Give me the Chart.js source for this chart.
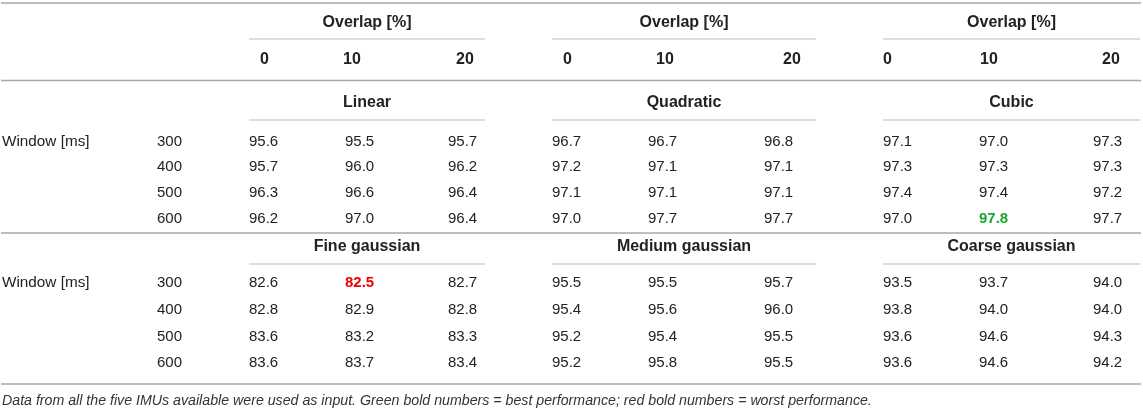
<!DOCTYPE html>
<html>
<head>
<meta charset="utf-8">
<script src="https://cdn.jsdelivr.net/npm/chart.js@4.4.1/dist/chart.umd.min.js"></script>
<style>
  html, body { margin: 0; padding: 0; background: #fff; }
  #wrap { width: 1143px; height: 411px; position: relative; }
</style>
</head>
<body>
<div id="wrap"><canvas id="imu_table"></canvas></div>
<script>
// table content
var overlaps = ['0', '10', '20'];
var windows = ['300', '400', '500', '600'];
var topMethods = ['Linear', 'Quadratic', 'Cubic'];
var bottomMethods = ['Fine gaussian', 'Medium gaussian', 'Coarse gaussian'];

var linear = [[95.6, 95.5, 95.7], [95.7, 96.0, 96.2], [96.3, 96.6, 96.4], [96.2, 97.0, 96.4]];
var quadratic = [[96.7, 96.7, 96.8], [97.2, 97.1, 97.1], [97.1, 97.1, 97.1], [97.0, 97.7, 97.7]];
var cubic = [[97.1, 97.0, 97.3], [97.3, 97.3, 97.3], [97.4, 97.4, 97.2], [97.0, 97.8, 97.7]];
var fineGaussian = [[82.6, 82.5, 82.7], [82.8, 82.9, 82.8], [83.6, 83.2, 83.3], [83.6, 83.7, 83.4]];
var mediumGaussian = [[95.5, 95.5, 95.7], [95.4, 95.6, 96.0], [95.2, 95.4, 95.5], [95.2, 95.8, 95.5]];
var coarseGaussian = [[93.5, 93.7, 94.0], [93.8, 94.0, 94.0], [93.6, 94.6, 94.3], [93.6, 94.6, 94.2]];

var bestValue = 97.8;
var worstValue = 82.5;
var footnote = 'Data from all the five IMUs available were used as input. Green bold numbers = best performance; red bold numbers = worst performance.';

// layout (in scale units, 1 unit = 1 px of the reference)
var groupLeft = [249, 552, 883];
var groupRight = [485, 816, 1140];
var valueX = [[249, 345, 448], [552, 648, 764], [883, 979, 1093]];
var headX = [[260, 343, 456], [563, 656, 783], [883, 980, 1102]];
var blockRowY = [[141.5, 167, 193, 219], [283, 310, 336.5, 363]];
var blockTitleY = [103, 247];
var blockUnderY = [120, 264];

var FONT = '"Liberation Sans", Arial, Helvetica, sans-serif';
var TEXT = '#222';

var blocks = [
    { names: topMethods, values: [linear, quadratic, cubic] },
    { names: bottomMethods, values: [fineGaussian, mediumGaussian, coarseGaussian] }
];

var datasets = [];
blocks.forEach(function (blk, b) {
    blk.values.forEach(function (tbl, g) {
        var pts = [];
        tbl.forEach(function (row, r) {
            row.forEach(function (v, c) {
                pts.push({ x: valueX[g][c], y: blockRowY[b][r], v: v });
            });
        });
        datasets.push({ label: blk.names[g], data: pts, pointRadius: 0, pointHoverRadius: 0 });
    });
});

var tablePlugin = {
    id: 'tablePlugin',
    afterDatasetsDraw: function (chart) {
        var ctx = chart.ctx;
        var sx = chart.scales.x, sy = chart.scales.y;
        var X = function (v) { return sx.getPixelForValue(v); };
        var Y = function (v) { return sy.getPixelForValue(v); };

        function hline(x0, x1, y, w, col) {
            ctx.save();
            ctx.strokeStyle = col;
            ctx.lineWidth = w;
            ctx.beginPath();
            ctx.moveTo(X(x0), Y(y));
            ctx.lineTo(X(x1), Y(y));
            ctx.stroke();
            ctx.restore();
        }
        function text(s, x, y, font, align, col) {
            ctx.save();
            ctx.font = font;
            ctx.fillStyle = col || TEXT;
            ctx.textAlign = align || 'left';
            ctx.textBaseline = 'middle';
            ctx.fillText(s, X(x), Y(y));
            ctx.restore();
        }

        // rules
        hline(1, 1141, 3, 1.5, '#a8a8a8');
        hline(1, 1141, 80.5, 1.5, '#a8a8a8');
        hline(1, 1141, 233, 1.5, '#a8a8a8');
        hline(1, 1141, 384, 1.5, '#a8a8a8');
        for (var g = 0; g < 3; g++) {
            hline(groupLeft[g], groupRight[g], 39, 1, '#bdbdbd');
            blockUnderY.forEach(function (y) { hline(groupLeft[g], groupRight[g], y, 1, '#bdbdbd'); });
        }

        // headers
        var bold = 'bold 16px ' + FONT;
        var reg = '15px ' + FONT;
        for (var g2 = 0; g2 < 3; g2++) {
            var cx = (groupLeft[g2] + groupRight[g2]) / 2;
            text('Overlap [%]', cx, 23, bold, 'center');
            overlaps.forEach(function (o, c) { text(o, headX[g2][c], 59.5, bold, 'left'); });
            blocks.forEach(function (blk, b) { text(blk.names[g2], cx, blockTitleY[b], bold, 'center'); });
        }

        // row labels
        blocks.forEach(function (blk, b) {
            text('Window [ms]', 2, blockRowY[b][0], '15.3px ' + FONT, 'left');
            windows.forEach(function (w, r) { text(w, 157, blockRowY[b][r], reg, 'left'); });
        });

        // cells from dataset elements
        chart.data.datasets.forEach(function (ds, i) {
            var meta = chart.getDatasetMeta(i);
            meta.data.forEach(function (el, j) {
                var v = ds.data[j].v;
                var font = reg, col = TEXT;
                if (v === bestValue && i === 2) { font = 'bold 15px ' + FONT; col = '#1ea52a'; }
                if (v === worstValue && i === 3) { font = 'bold 15px ' + FONT; col = '#ee0000'; }
                ctx.save();
                ctx.font = font;
                ctx.fillStyle = col;
                ctx.textAlign = 'left';
                ctx.textBaseline = 'middle';
                ctx.fillText(v.toFixed(1), el.x, el.y);
                ctx.restore();
            });
        });

        // footnote
        text(footnote, 2, 401, 'italic 14.2px ' + FONT, 'left', '#333');
    }
};

new Chart(document.getElementById('imu_table'), {
    type: 'scatter',
    data: { datasets: datasets },
    options: {
        responsive: true,
        maintainAspectRatio: false,
        animation: false,
        layout: { padding: 0 },
        plugins: { legend: { display: false }, tooltip: { enabled: false } },
        events: [],
        scales: {
            x: { type: 'linear', min: 0, max: 1143, display: false },
            y: { type: 'linear', min: 0, max: 411, reverse: true, display: false }
        }
    },
    plugins: [tablePlugin]
});
</script>
</body>
</html>
